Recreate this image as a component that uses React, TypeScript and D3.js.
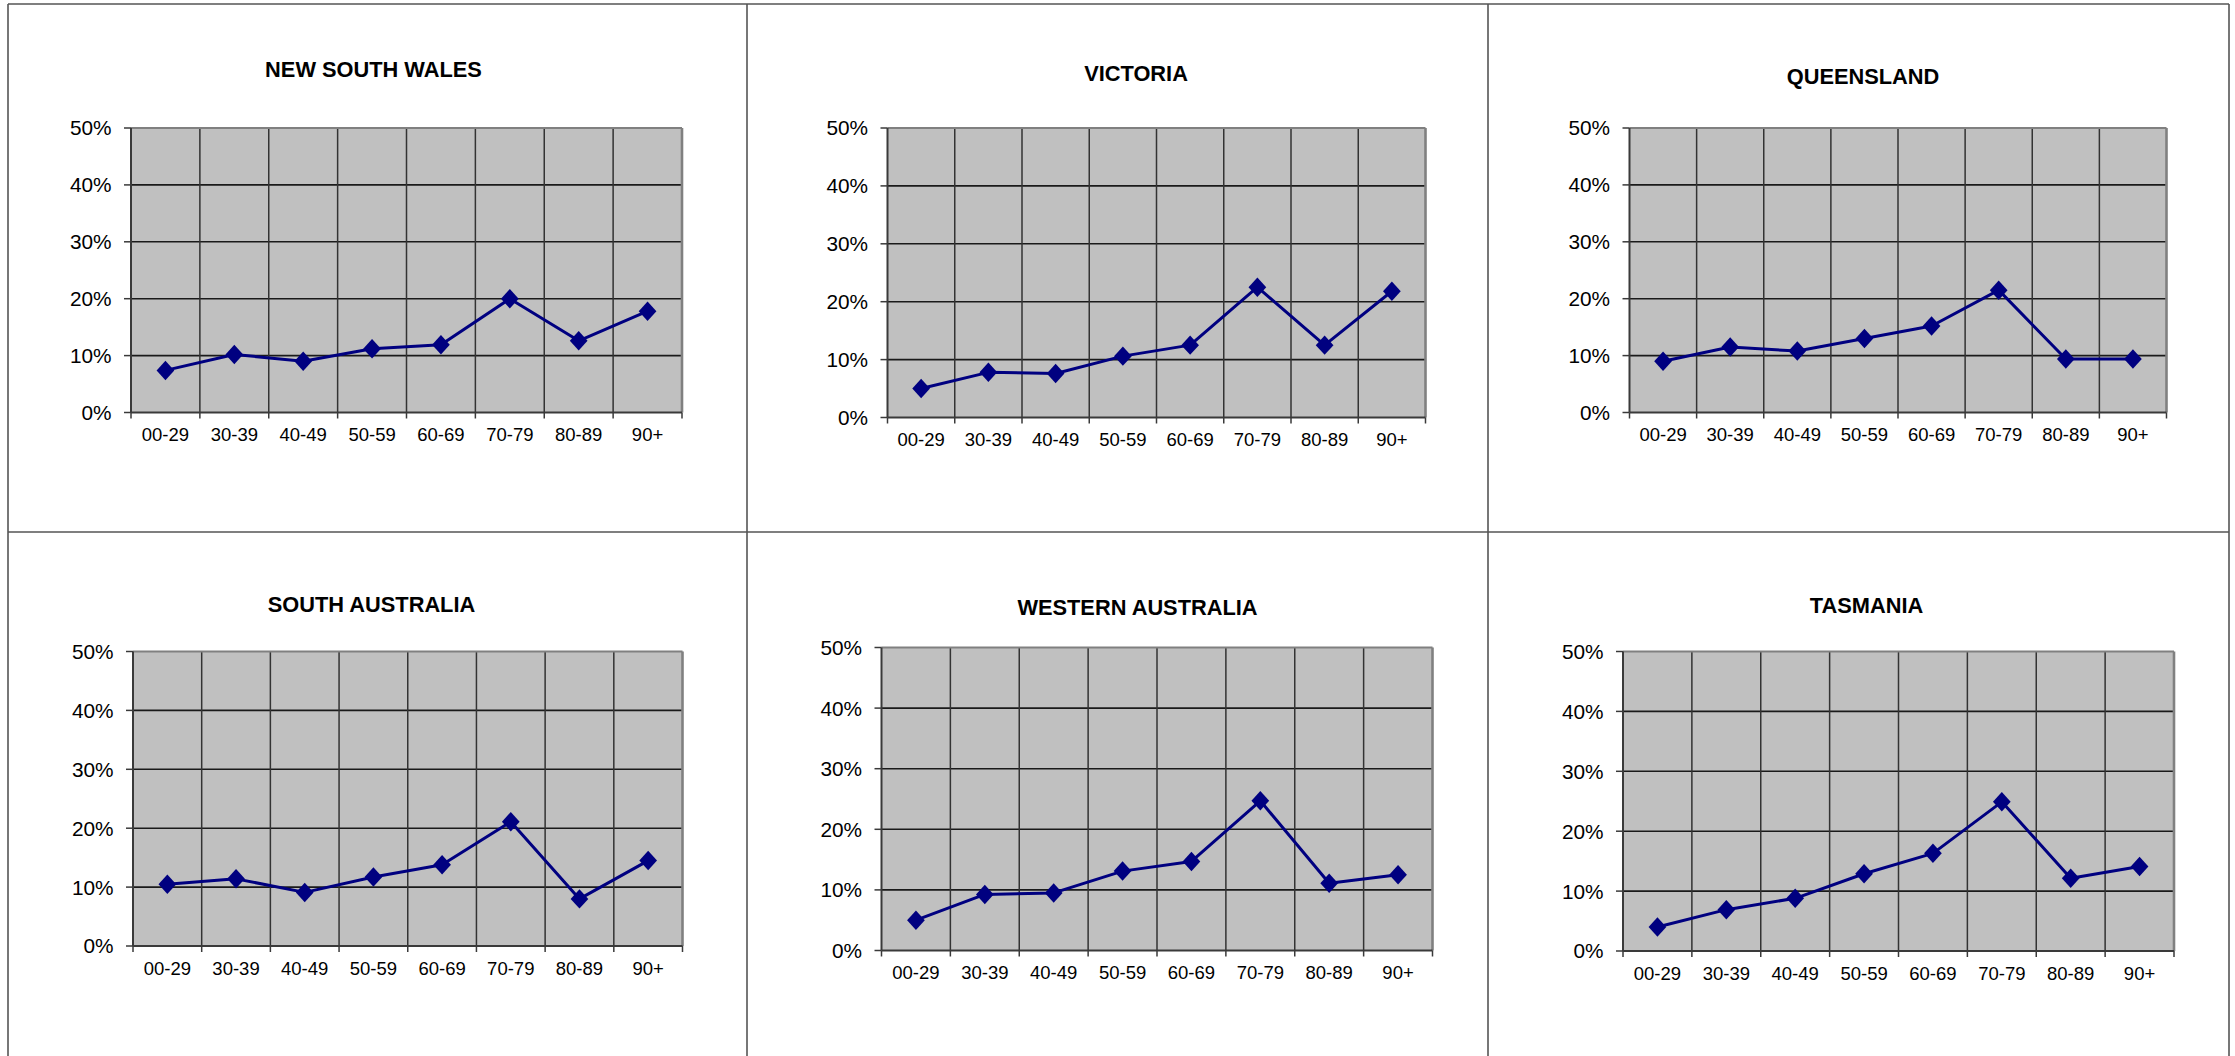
import React from "react";
import * as d3 from "d3";

const ageGroups = ["00-29", "30-39", "40-49", "50-59", "60-69", "70-79", "80-89", "90+"];
const yTicks = [0, 0.1, 0.2, 0.3, 0.4, 0.5];

const newSouthWales = [0.074, 0.102, 0.09, 0.112, 0.119, 0.2, 0.126, 0.178];
const victoria = [0.05, 0.078, 0.076, 0.106, 0.125, 0.225, 0.125, 0.218];
const queensland = [0.09, 0.115, 0.108, 0.13, 0.152, 0.215, 0.094, 0.094];
const southAustralia = [0.105, 0.114, 0.091, 0.117, 0.138, 0.211, 0.08, 0.145];
const westernAustralia = [0.05, 0.0925, 0.095, 0.131, 0.147, 0.247, 0.111, 0.125];
const tasmania = [0.04, 0.069, 0.088, 0.129, 0.163, 0.249, 0.1215, 0.141];

const stateNames = ["NEW SOUTH WALES", "VICTORIA", "QUEENSLAND", "SOUTH AUSTRALIA", "WESTERN AUSTRALIA", "TASMANIA"];
const stateSeries = [newSouthWales, victoria, queensland, southAustralia, westernAustralia, tasmania];

// layout (pixels)
const panelBoxes = [
  { l: 131, r: 682, t: 128, b: 412.5, tx: 373.5, ty: 76.5 },
  { l: 887.5, r: 1425.5, t: 128, b: 417.5, tx: 1136, ty: 81 },
  { l: 1629.5, r: 2166.5, t: 128, b: 412.5, tx: 1863, ty: 83.5 },
  { l: 133, r: 682.5, t: 651.5, b: 946, tx: 371.5, ty: 611.5 },
  { l: 881.5, r: 1432.5, t: 647.5, b: 950.5, tx: 1137.5, ty: 614.5 },
  { l: 1623, r: 2174, t: 651.5, b: 951, tx: 1866.5, ty: 612.5 },
];

const FONT = "'Liberation Sans', Arial, Helvetica, sans-serif";
const NAVY = "#000080";

function Panel({ name, values, box }: { name: string; values: number[]; box: any }) {
  const x = d3.scaleBand<string>().domain(ageGroups).range([box.l, box.r]).padding(0);
  const y = d3.scaleLinear().domain([0, 0.5]).range([box.b, box.t]);
  const fmt = d3.format(".0%");
  const line = d3
    .line<number>()
    .x((_, i) => (x(ageGroups[i]) as number) + x.bandwidth() / 2)
    .y((v) => y(v));
  const diamond = d3.symbol().type(d3.symbolDiamond2).size(200)();
  const boundaries = ageGroups.map((g) => x(g) as number).concat([box.r]);
  return (
    <g>
      <text x={box.tx} y={box.ty} textAnchor="middle" fontFamily={FONT} fontWeight="bold" fontSize={21.8} fill="#000">
        {name}
      </text>
      <rect x={box.l} y={box.t} width={box.r - box.l} height={box.b - box.t} fill="#C0C0C0" />
      {yTicks.slice(1, -1).map((t) => (
        <line key={"h" + t} x1={box.l} x2={box.r} y1={y(t)} y2={y(t)} stroke="#1a1a1a" strokeWidth={1.6} />
      ))}
      {boundaries.slice(1, -1).map((bx, i) => (
        <line key={"v" + i} x1={bx} x2={bx} y1={box.t} y2={box.b} stroke="#333" strokeWidth={1.5} />
      ))}
      {/* top & right border of plot area */}
      <line x1={box.l} x2={box.r} y1={box.t} y2={box.t} stroke="#808080" strokeWidth={2.2} />
      <line x1={box.r} x2={box.r} y1={box.t} y2={box.b} stroke="#808080" strokeWidth={2.6} />
      {/* axes */}
      <line x1={box.l} x2={box.l} y1={box.t} y2={box.b} stroke="#3a3a3a" strokeWidth={2} />
      <line x1={box.l} x2={box.r} y1={box.b} y2={box.b} stroke="#3a3a3a" strokeWidth={2.2} />
      {yTicks.map((t) => (
        <g key={"yt" + t}>
          <line x1={box.l - 7} x2={box.l} y1={y(t)} y2={y(t)} stroke="#3a3a3a" strokeWidth={1.5} />
          <text x={box.l - 19.5} y={y(t)} dy="0.36em" textAnchor="end" fontFamily={FONT} fontSize={20.8} fill="#000">
            {fmt(t)}
          </text>
        </g>
      ))}
      {boundaries.map((bx, i) => (
        <line key={"xt" + i} x1={bx} x2={bx} y1={box.b} y2={box.b + 6} stroke="#3a3a3a" strokeWidth={1.5} />
      ))}
      {ageGroups.map((g) => (
        <text
          key={"xl" + g}
          x={(x(g) as number) + x.bandwidth() / 2}
          y={box.b + 28.5}
          textAnchor="middle"
          fontFamily={FONT}
          fontSize={18.5}
          fill="#000"
        >
          {g}
        </text>
      ))}
      <path d={line(values) || ""} fill="none" stroke={NAVY} strokeWidth={3} strokeLinejoin="round" />
      {values.map((v, i) => (
        <path
          key={"m" + i}
          d={diamond || ""}
          transform={`translate(${(x(ageGroups[i]) as number) + x.bandwidth() / 2},${y(v)}) scale(1,1.1)`}
          fill={NAVY}
        />
      ))}
    </g>
  );
}

export default function App() {
  const W = 2235;
  const H = 1056;
  const colX = [8, 747, 1488, 2229];
  const rowY = [4, 532];
  return (
    <svg
      width={W}
      height={H}
      style={{ position: "absolute", left: 0, top: 0, background: "#fff" }}
      xmlns="http://www.w3.org/2000/svg"
    >
      <rect x={0} y={0} width={W} height={H} fill="#fff" />
      {/* table borders */}
      {rowY.map((yy, i) => (
        <line key={"r" + i} x1={colX[0]} x2={colX[3]} y1={yy} y2={yy} stroke="#555" strokeWidth={1.6} />
      ))}
      {colX.map((xx, i) => (
        <line key={"c" + i} x1={xx} x2={xx} y1={rowY[0]} y2={H} stroke="#555" strokeWidth={1.6} />
      ))}
      {stateNames.map((n, i) => (
        <Panel key={n} name={n} values={stateSeries[i]} box={panelBoxes[i]} />
      ))}
    </svg>
  );
}
